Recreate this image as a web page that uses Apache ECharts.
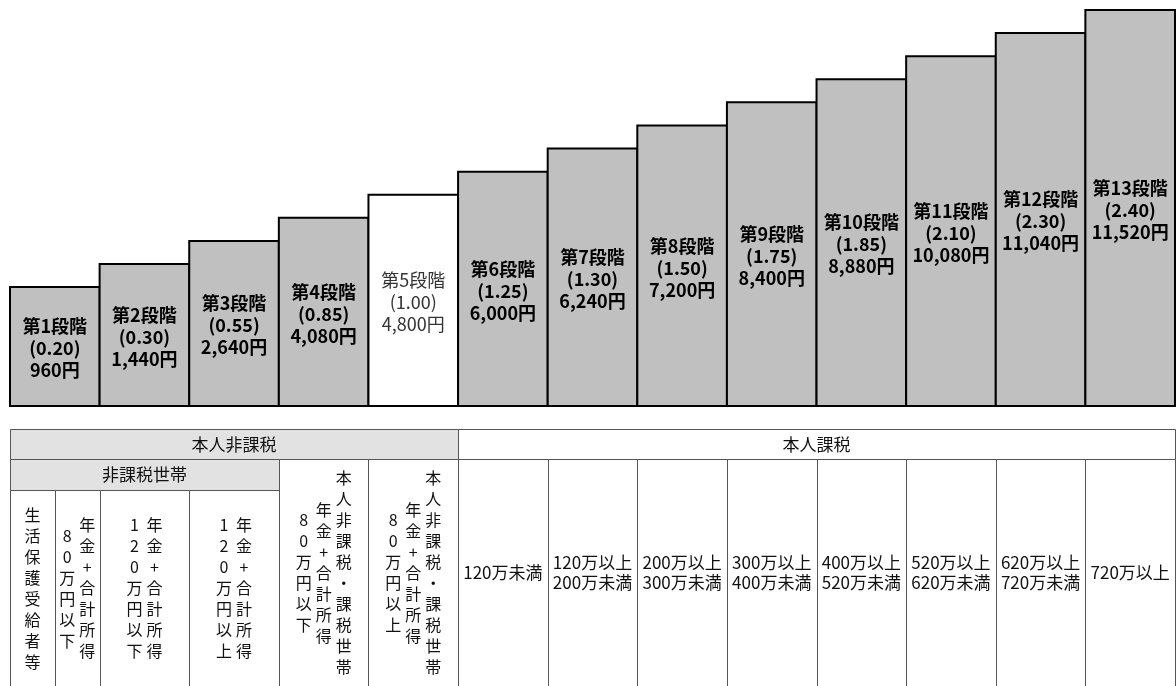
<!DOCTYPE html>
<html>
<head>
<meta charset="utf-8">
<script src="https://cdn.jsdelivr.net/npm/echarts@6/dist/echarts.min.js"></script>
<style>
html,body{margin:0;padding:0;background:#fff;}
#chart{width:1176px;height:686px;}
</style>
</head>
<body>
<div id="chart"></div>
<script>
// ---- data ----
const stages = ['第1段階','第2段階','第3段階','第4段階','第5段階','第6段階','第7段階','第8段階','第9段階','第10段階','第11段階','第12段階','第13段階'];
const stageLevels = [1,2,3,4,5,6,7,8,9,10,11,12,13];
const rates = [0.20,0.30,0.55,0.85,1.00,1.25,1.30,1.50,1.75,1.85,2.10,2.30,2.40];
const premiums = [960,1440,2640,4080,4800,6000,6240,7200,8400,8880,10080,11040,11520];
const baseStageIndex = 4; // 第5段階 (基準額)

const topHeaders = ['本人非課税','本人課税'];
const subHeader = '非課税世帯';
// vertical text cells, columns listed in reading order (right to left)
const lowIncomeCells = [
  ['生活保護受給者等'],
  ['年金+合計所得','80万円以下'],
  ['年金+合計所得','120万円以下'],
  ['年金+合計所得','120万円以上'],
  ['本人非課税・課税世帯','年金+合計所得','80万円以下'],
  ['本人非課税・課税世帯','年金+合計所得','80万円以上']
];
const incomeBands = ['120万未満','120万以上\n200万未満','200万以上\n300万未満','300万以上\n400万未満','400万以上\n520万未満','520万以上\n620万未満','620万以上\n720万未満','720万以上'];

// ---- layout ----
const FONT = '"Noto Sans CJK JP", "Noto Sans", sans-serif';
const HEAD_FILL = '#e2e2e2';
const TABLE_BOTTOM = 8.43;
const Y_MIN = -4.15;

const cells = [];
cells.push({x0:0, x1:5, y0:0, y1:1, fill:HEAD_FILL, text:topHeaders[0]});
cells.push({x0:5, x1:13, y0:0, y1:1, fill:'#fff', text:topHeaders[1]});
cells.push({x0:0, x1:3, y0:1, y1:2, fill:HEAD_FILL, text:subHeader});
const lowSpans = [[0,0.5],[0.5,1],[1,2],[2,3],[3,4],[4,5]];
lowIncomeCells.forEach((cols, i) => {
  cells.push({x0:lowSpans[i][0], x1:lowSpans[i][1], y0: i < 4 ? 2 : 1, y1:TABLE_BOTTOM, fill:'#fff', vertical:cols});
});
incomeBands.forEach((t, i) => {
  cells.push({x0:5+i, x1:6+i, y0:1, y1:TABLE_BOTTOM, fill:'#fff', text:t});
});

const chart = echarts.init(document.getElementById('chart'));
chart.setOption({
  animation: false,
  backgroundColor: '#fff',
  grid: [
    {left: 10, right: 1, top: 10, bottom: 280},
    {left: 10, right: 1, top: 429, bottom: 0}
  ],
  xAxis: [
    {type: 'category', data: stages, gridIndex: 0, show: false, boundaryGap: true},
    {type: 'value', gridIndex: 1, min: 0, max: 13, show: false}
  ],
  yAxis: [
    {type: 'value', gridIndex: 0, min: Y_MIN, max: 13, show: false},
    {type: 'value', gridIndex: 1, min: 0, max: TABLE_BOTTOM, inverse: true, show: false}
  ],
  series: [
    {
      type: 'custom',
      xAxisIndex: 0, yAxisIndex: 0,
      encode: {x: 0, y: 1},
      data: stageLevels.map((v, i) => [i, v]),
      renderItem: (params, api) => {
        const i = api.value(0);
        const base = api.coord([i, Y_MIN]);
        const top = api.coord([i, api.value(1)]);
        const bw = api.size([1, 0])[0];
        const x0 = base[0] - bw / 2;
        const isBase = i === baseStageIndex;
        const label = stages[i] + '\n(' + rates[i].toFixed(2) + ')\n' + premiums[i].toLocaleString('en-US') + '円';
        return {
          type: 'group',
          children: [
            {
              type: 'rect',
              shape: {x: x0, y: top[1], width: bw, height: base[1] - top[1]},
              style: {fill: isBase ? '#ffffff' : '#c0c0c0', stroke: '#000', lineWidth: 2}
            },
            {
              type: 'text',
              z2: 10,
              style: {
                text: label, x: base[0], y: (base[1] + top[1]) / 2 + 2,
                align: 'center', verticalAlign: 'middle',
                font: (isBase ? 'normal ' : 'bold ') + '18px ' + FONT,
                lineHeight: 22, fill: isBase ? '#333' : '#000'
              }
            }
          ]
        };
      }
    },
    {
      type: 'custom',
      xAxisIndex: 1, yAxisIndex: 1,
      encode: {x: [0, 1], y: [2, 3]},
      data: cells.map((c, i) => [c.x0, c.x1, c.y0, c.y1, i]),
      renderItem: (params, api) => {
        const c = cells[api.value(4)];
        const p0 = api.coord([api.value(0), api.value(2)]);
        const p1 = api.coord([api.value(1), api.value(3)]);
        const x = Math.round(p0[0]) + 0.5, y = Math.round(p0[1]) + 0.5;
        const w = Math.round(p1[0]) - Math.round(p0[0]);
        const h = Math.round(p1[1]) - Math.round(p0[1]);
        const cx = (p0[0] + p1[0]) / 2, cy = (p0[1] + p1[1]) / 2;
        const children = [{
          type: 'rect',
          shape: {x: x, y: y, width: w, height: h},
          style: {fill: c.fill, stroke: '#555', lineWidth: 1}
        }];
        if (c.text) {
          children.push({
            type: 'text',
            style: {text: c.text, x: cx, y: cy, align: 'center', verticalAlign: 'middle',
              font: '17px ' + FONT, lineHeight: 20, fill: '#111'}
          });
        }
        if (c.vertical) {
          const n = c.vertical.length, gap = 20;
          c.vertical.forEach((col, k) => {
            children.push({
              type: 'text',
              style: {text: Array.from(col).join('\n'), x: cx + (n - 1) / 2 * gap - k * gap, y: cy,
                align: 'center', verticalAlign: 'middle', font: '16px ' + FONT, lineHeight: 21, fill: '#111'}
            });
          });
        }
        return {type: 'group', children: children};
      }
    }
  ]
});
</script>
</body>
</html>
